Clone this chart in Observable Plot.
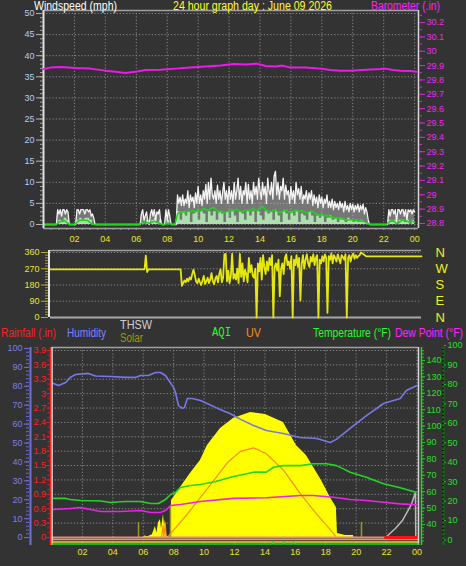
<!DOCTYPE html>
<html><head><meta charset="utf-8">
<script src="https://cdn.jsdelivr.net/npm/d3@7"></script>
<script src="https://cdn.jsdelivr.net/npm/@observablehq/plot@0.6"></script>
<style>
html,body{margin:0;padding:0;background:#333333;}
#wrap{position:relative;width:466px;height:566px;background:#333333;overflow:hidden;font-family:"Liberation Sans",Arial,sans-serif;}
#wrap svg{position:absolute;left:0;top:0;}
.lbl{position:absolute;white-space:nowrap;font-size:12px;line-height:12px;transform-origin:0 0;}
</style></head><body><div id="wrap"></div><script>
// ---------------- DATA ----------------
const gustStepMin = 5; // wind gust, one reading every 5 minutes, 00:00 .. 24:00
const windGust = [
  0,0,0,0,0,0,0,0,0,0,0,3.5,
  2.5,3.5,2,3.5,3.5,2.5,3.5,3,0,0,0,0,
  0,0,3.5,3.5,2.5,3.5,3.5,3.5,2.5,3.5,3.5,3,
  3.5,2,2.5,1.5,0,0,0,0,0,0,0,0,
  0,0,0,0,0,0,0,0,0,0,0,0,
  0,0,0,0,0,0,0,0,0,0,0,0,
  0,0,0,0,2.5,3.5,1,2,3,0.5,0,2.5,
  3.5,2,3.5,1,3,2.5,3.5,0.5,0,0,0,3.5,
  1,3.5,2,0,0,0,0,0,7,5,6.5,4.5,
  7,4.5,6,5,8,4,7,5.5,6.5,4,7.5,5,
  9,5,7,4.5,8,6,9.5,5,10,6,11,7,
  6,8,5,9.3,6,8,5,7.5,10,6,8,5,
  9,6,8,5,10,6,8,11,6,9,5,8,
  7,10,5,9.5,6,8,5,10,7,9,6,11,
  8,6,10,7,9,5,11,8,7,10,6,11.5,
  12.6,7,10,6,9,8,11,6,9.3,7,8,5,
  9,6,8,5,10,7,8.5,6,9,5,7,6,
  8,5,7.5,6,8,4.5,7,5,6.5,4,7,5,
  6.5,4,6,5,7,4,5.5,4,6,3.5,5.5,4,
  5,3.5,5.5,4,5,3,5.5,3.5,4.5,3,5,3.5,
  4.8,3,4.5,3.5,4.8,3,4.5,3.5,4.8,2.5,4,3,
  1,0,0,0,0,0,0,0,0,0,0,0,
  0,0,0,0,3.5,2,3.5,3.5,2.5,3.5,0.5,3.5,
  3.5,2.5,3.5,3.5,2,3.5,1,3.5,3,3.5,2.5,3.5,
  3
];
const windStepMin = 10; // wind speed and average, one reading every 10 minutes
const windSpeed = [
  0,0,0,0,0,0, 1,0.5,1.5,1,0,0,
  0,1,1.5,1,1.5,1.5, 1,0,0,0,0,0,
  0,0,0,0,0,0, 0,0,0,0,0,0,
  0,0,0.5,0,1,0, 1,1.5,0.5,1,0,0,
  1,0,0,0,3,1, 3,2,3,0.5,2.5,3,
  1,3,2.5,0.5,3,2, 3,1,3,2.5,0.5,3,
  1.5,3,2,0.5,3,2.5, 1,3,2,3,0.5,3,
  2,1,3,2.5,3,1, 3,2,0.5,3,2.5,1,
  3,2,3,0.5,2.5,2, 1,3,2,0.5,2,1.5,
  2,0.5,1.5,2,1,1.5, 0.5,1.5,1,0.5,1.5,1,
  0.5,1,0.5,1,0.5,0.5, 0,0,0,0,0,0,
  0,0,1,0.5,1,0, 1,1,0.5,1,0,1,
  0.5
];
const windAvg = [
  0,0,0,0,0,0, 0.5,0.8,1,0.5,0,0,
  0,0.5,1,1,1,1, 0.5,0,0,0,0,0,
  0,0,0,0,0,0, 0,0,0,0,0,0,
  0,0,0.3,0.5,0.5,0.3, 0.5,0.8,0.5,0.3,0,0,
  0.3,0.2,0,0,2.5,3, 3,2.8,3.2,3,3.3,3,
  3.5,3.2,3.8,3.5,3.3,3.8, 4,3.5,3,3.2,2.8,3,
  3.2,3.5,3.3,3.6,3.2,3, 3.3,3.5,3.2,3.8,3.5,3.3,
  3.8,4.3,3.5,3.2,3,3.3, 3.5,3,2.8,3.2,3.5,3,
  2.8,3.2,3.5,3,3.3,3, 2.8,3,3.2,2.8,2.5,2.3,
  2.5,2,2.2,1.8,1.8,1.5, 1.6,1.3,1.4,1.2,1,1.2,
  1,0.9,1,0.8,0.8,0.5, 0.2,0,0,0,0,0,
  0,0,0.5,1,0.8,0.2, 0.5,1,1,0.8,0.5,0.8,
  0.5
];
const baroHour  = [0,0.45,1.1,2.07,3.04,4.0,4.66,5.3,5.95,6.6,7.57,8.54,9.5,10.48,11.45,12.3,13.07,13.78,14.36,15.0,15.46,15.98,16.95,17.92,18.56,19.2,19.86,20.83,21.8,22.12,22.57,23.09,23.74,24.1];
const baroValue = [29.876,29.886,29.89,29.883,29.879,29.865,29.858,29.848,29.858,29.869,29.872,29.879,29.886,29.893,29.9,29.911,29.907,29.914,29.897,29.893,29.9,29.886,29.886,29.879,29.869,29.865,29.865,29.872,29.876,29.879,29.869,29.865,29.862,29.858];

const dirStepMin = 5; // wind direction, one reading every 5 minutes
const windDir = [
  267,267,267,267,267,267,267,267,267,267,267,267,
  267,267,267,267,267,267,267,267,267,267,267,267,
  267,267,267,267,267,267,267,267,267,267,267,267,
  267,267,267,267,267,267,267,267,267,267,267,267,
  267,267,267,267,267,267,267,267,267,267,267,267,
  267,267,267,267,267,267,267,267,267,267,267,267,
  267,267,343,252,267,267,267,267,267,267,267,267,
  267,267,267,267,267,267,267,267,267,267,267,267,
  267,267,267,267,267,267,175,190,205,195,215,200,
  222,210,240,265,235,200,190,215,195,180,205,230,
  185,200,220,190,210,245,200,185,215,230,195,240,
  267,195,220,350,352,200,260,190,230,353,215,240,
  210,270,190,352,225,300,200,265,240,195,330,250,
  290,230,220,270,0,300,255,330,210,345,280,240,
  310,260,330,290,345,0,280,300,260,320,118,270,
  300,240,330,350,290,310,270,340,0,320,290,345,
  280,330,94,300,345,270,320,350,300,280,335,310,
  350,290,330,345,0,320,300,340,310,350,330,26,
  340,320,355,300,345,330,310,350,325,300,345,335,
  320,350,0,330,345,310,340,355,325,345,330,340,
  345,360,355,350,345,338,338,338,338,338,338,338,
  338,338,338,338,338,338,338,338,338,338,338,338,
  338,338,338,338,338,338,338,338,338,338,338,338,
  338,338,338,338,338,338,338,338,338,338,338,338,
  338
];

const humHour  = [0.1,0.43,0.9,1.2,1.55,2.4,2.86,3.85,4.83,5.49,5.82,6.34,6.8,7.13,7.46,7.99,8.12,8.32,8.58,8.71,8.9,9.24,9.76,10.2,10.9,11.7,12.4,13.25,14.1,15.2,16.3,17.4,18.3,18.7,19.6,20.7,21.8,22.9,23.3,24.0];
const humValue = [81.5,80.4,82,84.7,86.2,86.8,85.4,85.2,84.7,84.7,85.7,85.7,87.3,87.3,85.7,79.4,76.7,69.8,68.3,68.8,73.5,73.5,72.5,70.9,68.3,65.6,62.5,59.3,56.6,55,52.9,52.4,50.3,51.9,57.7,64.6,70.9,73.5,77.8,80.4];
const tempHour  = [0.1,0.9,1.2,1.87,3.2,3.85,4.83,5.8,6.5,7.0,7.46,7.8,8.12,8.45,9.1,9.76,10.75,11.93,13.25,14.1,14.56,15.22,16.34,17.19,18.05,18.7,19.17,19.6,20.67,21.79,22.9,23.93];
const tempValue = [55.9,55.9,55.2,54.6,54.3,53.4,54,54,52.8,52.8,55.2,58.3,59.5,62.6,63.8,64.4,66.2,69.3,71.9,71.9,74.9,75.9,75.9,77,77,75.9,73.9,71.9,68.8,64.8,62.4,59.7];
const dewHour  = [0.1,1.2,1.87,2.53,3.2,4.5,5.8,6.5,7.13,7.46,7.8,8.45,9.76,11.93,14.1,16.34,17.19,18.5,19.6,20.67,21.79,22.9,23.96];
const dewValue = [49.1,49.8,50.4,49.1,47.9,47.9,48.5,47.3,47.3,48.5,51.6,52.2,54,55.9,56.3,57.7,57.7,56.6,55.2,54.6,53.6,52.6,52];
const solarHour  = [6.0,6.1,6.3,6.6,6.8,6.9,7.0,7.13,7.2,7.33,7.4,7.46,7.55,7.8,7.86,8.45,9.1,9.76,10.22,11.08,11.93,13.05,14.04,15.22,16.07,16.73,17.72,18.3,18.7,18.77,19.3,19.82,19.87];
const solarValue = [0,10,5,20,76,30,100,124,60,158,80,120,10,0,255,344,440,530,633,750,819,860,846,791,633,564,392,275,206,28,14,14,0];
const solarMarkHour  = [5.69,7.79,20.35];
const solarMarkValue = [8,17,8];
const uvHour  = [7.2,7.3,7.35,7.45,7.5,7.59,8.91,10.22,11.54,12.39,13.25,14.1,15.22,16.34,17.39,18.51,18.7];
const uvValue = [0,1.0,0,1.2,0,0,2.0,4.15,6.35,7.3,7.6,7.1,5.7,3.7,2.0,0.34,0];
const thswHour  = [21.93,22.58,23.04,23.37,23.63,23.9,23.92];
const thswValue = [0,4.8,9,13.7,17.5,23.8,0];
const rainHour  = [21.93,24.05];
const rainValue = [0,0];
const aqiHour  = [0,14.5,14.55,14.6,15.2,15.25,15.3,15.85,15.9,15.95,24.1];
const aqiValue = [0,0,1,0,0,1,0,0,1,0,0];

const hourTicks  = [2,4,6,8,10,12,14,16,18,20,22,24];
const hourLabels = ["02","04","06","08","10","12","14","16","18","20","22","00"];
const windTicks  = [0,5,10,15,20,25,30,35,40,45,50];
const baroTicks  = [28.8,28.9,29,29.1,29.2,29.3,29.4,29.5,29.6,29.7,29.8,29.9,30,30.1,30.2];
const dirTicks   = [0,90,180,270,360];
const dirLetters = ["N","E","S","W","N"];
const humTicks   = [0,10,20,30,40,50,60,70,80,90,100];
const rainTicks  = [0,0.3,0.6,0.9,1.2,1.5,1.8,2.1,2.4,2.7,3,3.3,3.6,3.9];
const tempTicks  = [40,50,60,70,80,90,100,110,120,130,140];
const aqiTicks   = [0,10,20,30,40,50,60,70,80,90,100];

// ---------------- RENDER ----------------
const W = 466, H = 566;
const FONT = "Liberation Sans, Arial, sans-serif";
const wrap = document.getElementById("wrap");
const series = (hours, values) => hours.map((h, i) => ({h, v: values[i]}));
const stepSeries = (values, stepMin) => values.map((v, i) => ({h: i * stepMin / 60, v}));
const fmtHour = h => hourLabels[hourTicks.indexOf(h)];
const blank = () => "";
const dotted = {stroke: "#8a8a8a", strokeDasharray: "1.2,2", strokeWidth: 1};

function layer(ml, mr, mt, mb, xd, yd, marks) {
  const svg = Plot.plot({
    width: W, height: H,
    marginLeft: ml, marginRight: mr, marginTop: mt, marginBottom: mb,
    style: {background: "transparent", overflow: "visible", fontFamily: FONT, fontSize: "9px"},
    x: {domain: xd, axis: null},
    y: {domain: yd, axis: null},
    marks
  });
  wrap.appendChild(svg);
}
function label(text, left, top, color, width, extra) {
  const d = document.createElement("div");
  d.className = "lbl"; d.textContent = text;
  d.style.left = left + "px"; d.style.top = top + "px"; d.style.color = color;
  if (extra) Object.assign(d.style, extra);
  wrap.appendChild(d);
  const w = d.getBoundingClientRect().width;
  if (w > 0) d.style.transform = `scaleX(${width / w})`;
}

// ---- top panel: wind speed (left) ----
const gust = stepSeries(windGust, gustStepMin);
const speed = stepSeries(windSpeed, windStepMin);
const avg = stepSeries(windAvg, windStepMin);
const TOPX = [0, 24.25];
layer(43, 48, 10, 338, TOPX, [-0.95, 50.71], [
  Plot.ruleY(windTicks, {y: d => d, ...dotted}),
  Plot.ruleX(hourTicks, {x: d => d, ...dotted}),
  Plot.areaY(gust, {x: "h", y: "v", fill: "#c8c8c8", fillOpacity: 0.45}),
  Plot.areaY(speed, {x: "h", y: "v", curve: "step-after", fill: "#b9f2b9", fillOpacity: 0.85}),
  Plot.lineY(gust, {x: "h", y: "v", stroke: "#f4f4f4", strokeWidth: 1.3}),
  Plot.lineY(avg, {x: "h", y: "v", stroke: "#1fd31f", strokeWidth: 1.6}),
  Plot.ruleY([50.71], {stroke: "#a0a0a0", strokeWidth: 1.5}),
  Plot.ruleY([-0.95], {stroke: "#a0a0a0", strokeWidth: 1.5}),
  Plot.ruleX([0], {stroke: "#e0e0e0", strokeWidth: 2}),
  Plot.ruleX([24.25], {stroke: "#d8d8d8", strokeWidth: 1.5}),
  Plot.axisY({ticks: windTicks, anchor: "left", label: null, tickSize: 7, tickPadding: 2, stroke: "#b8b8b8", fill: "#b4cdf5", fontSize: 9}),
  Plot.axisY({ticks: d3.range(0, 51, 1), anchor: "left", label: null, tickSize: 3, tickFormat: blank, stroke: "#a8a8a8"}),
  Plot.axisX({ticks: d3.range(0.5, 24.1, 0.5), anchor: "bottom", label: null, tickSize: 2, tickFormat: blank, stroke: "#999"}),
  Plot.axisX({ticks: hourTicks, anchor: "bottom", label: null, tickSize: 0, tickPadding: 7, tickFormat: fmtHour, fill: "#e6e62a", fontSize: 9})
]);
// ---- top panel: barometer (right) ----
layer(43, 48, 10, 338, TOPX, [28.765, 30.284], [
  Plot.lineY(series(baroHour, baroValue), {x: "h", y: "v", stroke: "#f018f0", strokeWidth: 2}),
  Plot.axisY({ticks: baroTicks, anchor: "right", label: null, tickSize: 6, tickPadding: 2, stroke: "#e020e0", fill: "#f028f0", fontSize: 9, tickFormat: d => String(d)}),
  Plot.axisY({ticks: d3.range(288, 303, 0.5).map(d => d / 10), anchor: "right", label: null, tickSize: 3, tickFormat: blank, stroke: "#e020e0"})
]);

// ---- middle panel: wind direction ----
const dir = stepSeries(windDir, dirStepMin);
layer(50, 45, 250, 249, [0, 24], [0, 371], [
  Plot.ruleY(dirTicks, {y: d => d, ...dotted}),
  Plot.ruleY([371], {stroke: "#a0a0a0", strokeWidth: 1.5}),
  Plot.ruleY([0], {stroke: "#a8a8a8", strokeWidth: 2}),
  Plot.lineY(dir, {x: "h", y: "v", stroke: "#e6e610", strokeWidth: 1.8}),
  Plot.ruleX([0], {stroke: "#e8e8e8", strokeWidth: 2, dx: -1.5}),
  Plot.axisY({ticks: dirTicks, anchor: "left", label: null, tickSize: 7, tickPadding: 2, dx: -2, stroke: "#b8b020", fill: "#e6e62a", fontSize: 9}),
  Plot.axisY({ticks: d3.range(0, 361, 15), anchor: "left", label: null, tickSize: 3, dx: -2, tickFormat: blank, stroke: "#a8a020"}),
  Plot.axisY({ticks: dirTicks, anchor: "right", label: null, tickSize: 0, tickPadding: 14, tickFormat: (d, i) => dirLetters[i], fill: "#f0f020", fontSize: 13})
]);

// ---- bottom panel ----
const BX = [0, 24.1];
const BM = [51.5, 48, 347, 21];
// grid, frame, x axis (rain scale)
layer(...BM, BX, [-0.167, 3.962], [
  Plot.ruleY(rainTicks, {y: d => d, ...dotted}),
  Plot.ruleX(hourTicks, {x: d => d, ...dotted}),
  Plot.ruleY([3.962], {stroke: "#a0a0a0", strokeWidth: 1.5}),
  Plot.axisX({ticks: hourTicks, anchor: "bottom", label: null, tickSize: 0, tickPadding: 3, tickFormat: fmtHour, fill: "#e6e62a", fontSize: 9})
]);
// solar
layer(...BM, BX, [-54.6, 1306.5], [
  Plot.areaY(series(solarHour, solarValue), {x: "h", y: "v", fill: "#ffff00"})
]);
layer(...BM, BX, [-4.2, 100.5], [
  Plot.ruleX(series(solarMarkHour, solarMarkValue), {x: "h", y1: 0, y2: "v", stroke: "#a09a10", strokeWidth: 1.5})
]);
// UV
layer(...BM, BX, [-0.68, 16.1], [
  Plot.lineY(series(uvHour, uvValue), {x: "h", y: "v", stroke: "#ff8c1a", strokeWidth: 1.2}),
  Plot.ruleY([0], {stroke: "#ff9a20", strokeWidth: 1.5, dy: 2})
]);
// humidity & THSW
layer(...BM, BX, [-4.2, 100.5], [
  Plot.lineY(series(humHour, humValue), {x: "h", y: "v", stroke: "#7878e6", strokeWidth: 1.6}),
  Plot.lineY(series(thswHour, thswValue), {x: "h", y: "v", stroke: "#b8b8b8", strokeWidth: 1.5}),
  Plot.ruleX([0], {stroke: "#7070e0", strokeWidth: 2, dx: -21.5}),
  Plot.axisY({ticks: humTicks, anchor: "left", label: null, tickSize: 5, tickPadding: 2, dx: -22.5, stroke: "#7070e0", fill: "#7e7ee8", fontSize: 9}),
  Plot.axisY({ticks: d3.range(0, 101, 2), anchor: "left", label: null, tickSize: 3, dx: -22.5, tickFormat: blank, stroke: "#6a6ad8"})
]);
// rainfall
layer(...BM, BX, [-0.167, 3.962], [
  Plot.ruleY([0], {stroke: "#e08a8a", strokeWidth: 2}),
  Plot.lineY(series(rainHour, rainValue), {x: "h", y: "v", stroke: "#ff1010", strokeWidth: 3}),
  Plot.ruleX([0], {stroke: "#e8e8e8", strokeWidth: 1.5}),
  Plot.ruleX([0], {stroke: "#ff2020", strokeWidth: 1.5, dx: -1.5}),
  Plot.ruleX([24.1], {stroke: "#d8d8d8", strokeWidth: 1.5}),
  Plot.axisY({ticks: rainTicks, anchor: "left", label: null, tickSize: 3, tickPadding: 1, dx: -2, stroke: "#ff2020", fill: "#ff2020", fontSize: 9, tickFormat: d => String(d)}),
  Plot.axisY({ticks: d3.range(0, 40, 1).map(d => d / 10), anchor: "left", label: null, tickSize: 2, dx: -2, tickFormat: blank, stroke: "#e02020"})
]);
// temperature & dew point
layer(...BM, BX, [27.2, 147.9], [
  Plot.lineY(series(tempHour, tempValue), {x: "h", y: "v", stroke: "#22d622", strokeWidth: 1.6}),
  Plot.lineY(series(dewHour, dewValue), {x: "h", y: "v", stroke: "#f020f0", strokeWidth: 1.6}),
  Plot.ruleX([24.1], {stroke: "#22d622", strokeWidth: 1.5, dx: 3}),
  Plot.axisY({ticks: tempTicks, anchor: "right", label: null, tickSize: 3, tickPadding: 2, dx: 3, stroke: "#22d622", fill: "#22e022", fontSize: 9}),
  Plot.axisY({ticks: d3.range(30, 148, 2), anchor: "right", label: null, tickSize: 2, dx: 3, tickFormat: blank, stroke: "#20c020"})
]);
// AQI
layer(...BM, BX, [-2.83, 99.0], [
  Plot.ruleY([0], {stroke: "#e0e020", strokeWidth: 1.5, dy: 2}),
  Plot.lineY(series(aqiHour, aqiValue), {x: "h", y: "v", stroke: "#22d622", strokeWidth: 1.5, dy: 4}),
  Plot.ruleX([24.1], {stroke: "#107010", strokeWidth: 2, dx: 25}),
  Plot.axisY({ticks: d3.range(0, 100, 2), anchor: "right", label: null, tickSize: 2, dx: 23, tickFormat: blank, stroke: "#0a0a0a"}),
  Plot.axisY({ticks: aqiTicks, anchor: "right", label: null, tickSize: 2, tickPadding: 2, dx: 25, stroke: "#22c022", fill: "#22e022", fontSize: 9})
]);

// ---- titles & legends ----
label("Windspeed (mph)", 34, 0, "#ffffff", 83);
label("24 hour graph day : June 09 2026", 173, 0, "#ffff20", 159);
label("Barometer (.in)", 371, 0, "#ff22ff", 69);
label("Rainfall (.in)", 1, 327, "#ff2020", 55);
label("Humidity", 67, 327, "#8080ff", 39);
label("THSW", 120, 319, "#d0d0d0", 32);
label("Solar", 120, 332, "#9a9a10", 23);
label("AQI", 212, 327, "#22ff22", 19, {fontFamily: "Liberation Mono, monospace"});
label("UV", 246, 327, "#ff8c1a", 15);
label("Temperature (°F)", 313, 327, "#22ff22", 78);
label("Dew Point (°F)", 395, 327, "#ff22ff", 68);
</script></body></html>
